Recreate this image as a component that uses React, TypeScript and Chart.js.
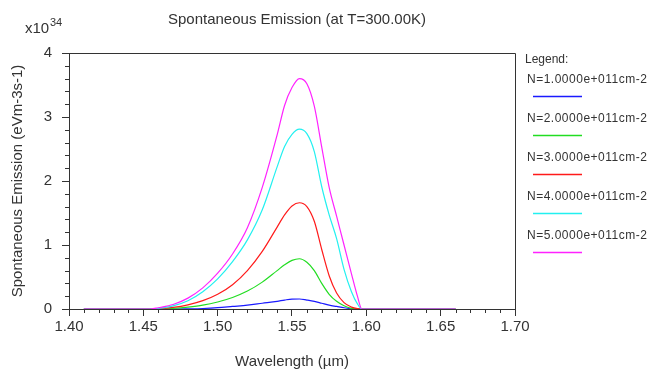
import { useEffect, useRef } from 'react';
import { Chart, registerables } from 'chart.js';

Chart.register(...registerables);

// Shared wavelength grid (µm)
const wavelengths = [1.41, 1.455, 1.46, 1.47, 1.48, 1.49, 1.5, 1.51, 1.52, 1.53, 1.54, 1.545, 1.55, 1.555, 1.56, 1.565, 1.57, 1.575, 1.58, 1.585, 1.59, 1.594, 1.597, 1.66];

// Spontaneous emission (x10^34 eVm-3s-1)
const emissionN1 = [0, 0, 0, 0, 0.003, 0.008, 0.02, 0.04, 0.06, 0.09, 0.12, 0.14, 0.155, 0.156, 0.14, 0.12, 0.09, 0.06, 0.04, 0.02, 0.003, 0, 0, 0];
const emissionN2 = [0, 0, 0, 0.01, 0.03, 0.06, 0.11, 0.18, 0.28, 0.42, 0.6, 0.69, 0.76, 0.785, 0.73, 0.6, 0.4, 0.23, 0.12, 0.05, 0.01, 0, 0, 0];
const emissionN3 = [0, 0, 0.005, 0.025, 0.065, 0.13, 0.23, 0.38, 0.6, 0.9, 1.28, 1.47, 1.61, 1.66, 1.6, 1.37, 0.93, 0.52, 0.25, 0.1, 0.03, 0.005, 0, 0];
const emissionN4 = [0, 0, 0.01, 0.05, 0.13, 0.27, 0.47, 0.74, 1.08, 1.55, 2.22, 2.54, 2.73, 2.81, 2.74, 2.46, 1.91, 1.47, 1.1, 0.62, 0.27, 0.08, 0, 0];
const emissionN5 = [0, 0, 0.02, 0.07, 0.17, 0.33, 0.56, 0.86, 1.27, 1.9, 2.72, 3.18, 3.46, 3.6, 3.52, 3.17, 2.53, 1.9, 1.45, 1.0, 0.55, 0.2, 0, 0];

const seriesLabels = ['N=1.0000e+011cm-2', 'N=2.0000e+011cm-2', 'N=3.0000e+011cm-2', 'N=4.0000e+011cm-2', 'N=5.0000e+011cm-2'];
const seriesValues = [emissionN1, emissionN2, emissionN3, emissionN4, emissionN5];
const seriesColors = ['#1a1aff', '#22dd22', '#ff1a1a', '#22f0f0', '#ff22ff'];

const chartTitle = 'Spontaneous Emission (at T=300.00K)';
const xTitle = 'Wavelength (\u00b5m)';
const yTitle = 'Spontaneous Emission (eVm-3s-1)';
const xMin = 1.4;
const xMax = 1.7;
const yMin = 0;
const yMax = 4;

const TEXT = '#333333';
const AXIS = '#333333';

const decorPlugin = {
  id: 'decor',
  afterDraw(chart: any) {
    const { ctx, chartArea, scales } = chart;
    const { left, right, top, bottom } = chartArea;
    const x = scales.x;
    const y = scales.y;
    ctx.save();
    ctx.strokeStyle = AXIS;
    ctx.lineWidth = 1;
    // box top and right
    ctx.beginPath();
    ctx.moveTo(left, Math.round(top) + 0.5);
    ctx.lineTo(Math.round(right) + 0.5, Math.round(top) + 0.5);
    ctx.lineTo(Math.round(right) + 0.5, bottom);
    ctx.stroke();
    // minor x ticks
    ctx.beginPath();
    for (let i = 0; i <= 30; i++) {
      if (i % 5 === 0) continue;
      const px = Math.round(x.getPixelForValue(xMin + i * 0.01)) + 0.5;
      ctx.moveTo(px, bottom);
      ctx.lineTo(px, bottom + 4);
    }
    // minor y ticks
    for (let i = 0; i <= 20; i++) {
      if (i % 5 === 0) continue;
      const py = Math.round(y.getPixelForValue(yMin + i * 0.2)) + 0.5;
      ctx.moveTo(left - 4, py);
      ctx.lineTo(left, py);
    }
    ctx.stroke();

    // title
    ctx.fillStyle = TEXT;
    ctx.textBaseline = 'middle';
    ctx.textAlign = 'center';
    ctx.font = '15px "Liberation Sans", Arial, sans-serif';
    ctx.fillText(chartTitle, 297, 20);

    // exponent label
    ctx.textAlign = 'left';
    ctx.textBaseline = 'alphabetic';
    ctx.font = '15px "Liberation Sans", Arial, sans-serif';
    ctx.fillText('x10', 25, 33);
    ctx.font = '11px "Liberation Sans", Arial, sans-serif';
    ctx.fillText('34', 50, 26);

    // legend
    const lx = 525;
    ctx.textBaseline = 'middle';
    ctx.font = '12px "Liberation Sans", Arial, sans-serif';
    ctx.fillText('Legend:', lx, 60);
    seriesLabels.forEach((label, i) => {
      const ty = 80 + i * 39;
      ctx.fillStyle = TEXT;
      try { (ctx as any).letterSpacing = '0.5px'; } catch (e) {}
      ctx.fillText(label, 527, ty);
      try { (ctx as any).letterSpacing = '0px'; } catch (e) {}
      ctx.strokeStyle = seriesColors[i];
      ctx.lineWidth = 1.4;
      ctx.beginPath();
      ctx.moveTo(533, Math.round(ty + 16) + 0.5);
      ctx.lineTo(582, Math.round(ty + 16) + 0.5);
      ctx.stroke();
    });
    ctx.restore();
  },
};

export default function App() {
  const canvasRef = useRef<HTMLCanvasElement | null>(null);

  useEffect(() => {
    const canvas = canvasRef.current;
    if (!canvas) return;
    const datasets = seriesValues.map((vals, i) => ({
      label: seriesLabels[i],
      data: wavelengths.map((w, j) => ({ x: w, y: vals[j] })),
      borderColor: seriesColors[i],
      backgroundColor: seriesColors[i],
      borderWidth: 1.2,
      pointRadius: 0,
      fill: false,
      cubicInterpolationMode: 'monotone' as const,
      order: seriesValues.length - i,
    }));
    const chart = new Chart(canvas, {
      type: 'line',
      data: { datasets },
      options: {
        responsive: false,
        animation: false,
        devicePixelRatio: 1,
        layout: { padding: { left: 0, top: 53, right: 137, bottom: 0 } },
        plugins: {
          legend: { display: false },
          tooltip: { enabled: false },
          title: { display: false },
        },
        scales: {
          x: {
            type: 'linear',
            min: xMin,
            max: xMax,
            afterFit: (s: any) => { s.height = 60; },
            ticks: {
              stepSize: 0.05,
              color: TEXT,
              font: { size: 15, family: '"Liberation Sans", Arial, sans-serif' },
              padding: 2,
              maxRotation: 0,
              callback: (v: any) => Number(v).toFixed(2),
            },
            grid: { display: true, drawOnChartArea: false, drawTicks: true, tickLength: 7, color: AXIS },
            border: { display: true, color: AXIS, width: 1 },
            title: {
              display: true,
              text: xTitle,
              color: TEXT,
              font: { size: 15, family: '"Liberation Sans", Arial, sans-serif' },
              padding: { top: 0, bottom: -2 },
            },
          },
          y: {
            type: 'linear',
            min: yMin,
            max: yMax,
            afterFit: (s: any) => { s.width = 69; },
            ticks: {
              stepSize: 1,
              color: TEXT,
              font: { size: 15, family: '"Liberation Sans", Arial, sans-serif' },
              padding: 10,
            },
            grid: { display: true, drawOnChartArea: false, drawTicks: true, tickLength: 7, color: AXIS },
            border: { display: true, color: AXIS, width: 1 },
            title: {
              display: true,
              text: yTitle,
              color: TEXT,
              font: { size: 15, family: '"Liberation Sans", Arial, sans-serif' },
              padding: { top: 9, bottom: 0 },
            },
          },
        },
      },
      plugins: [decorPlugin],
    });
    return () => chart.destroy();
  }, []);

  return (
    <div style={{ position: 'absolute', left: 0, top: 0, width: 652, height: 369, background: '#fff' }}>
      <canvas ref={canvasRef} width={652} height={369} />
    </div>
  );
}
